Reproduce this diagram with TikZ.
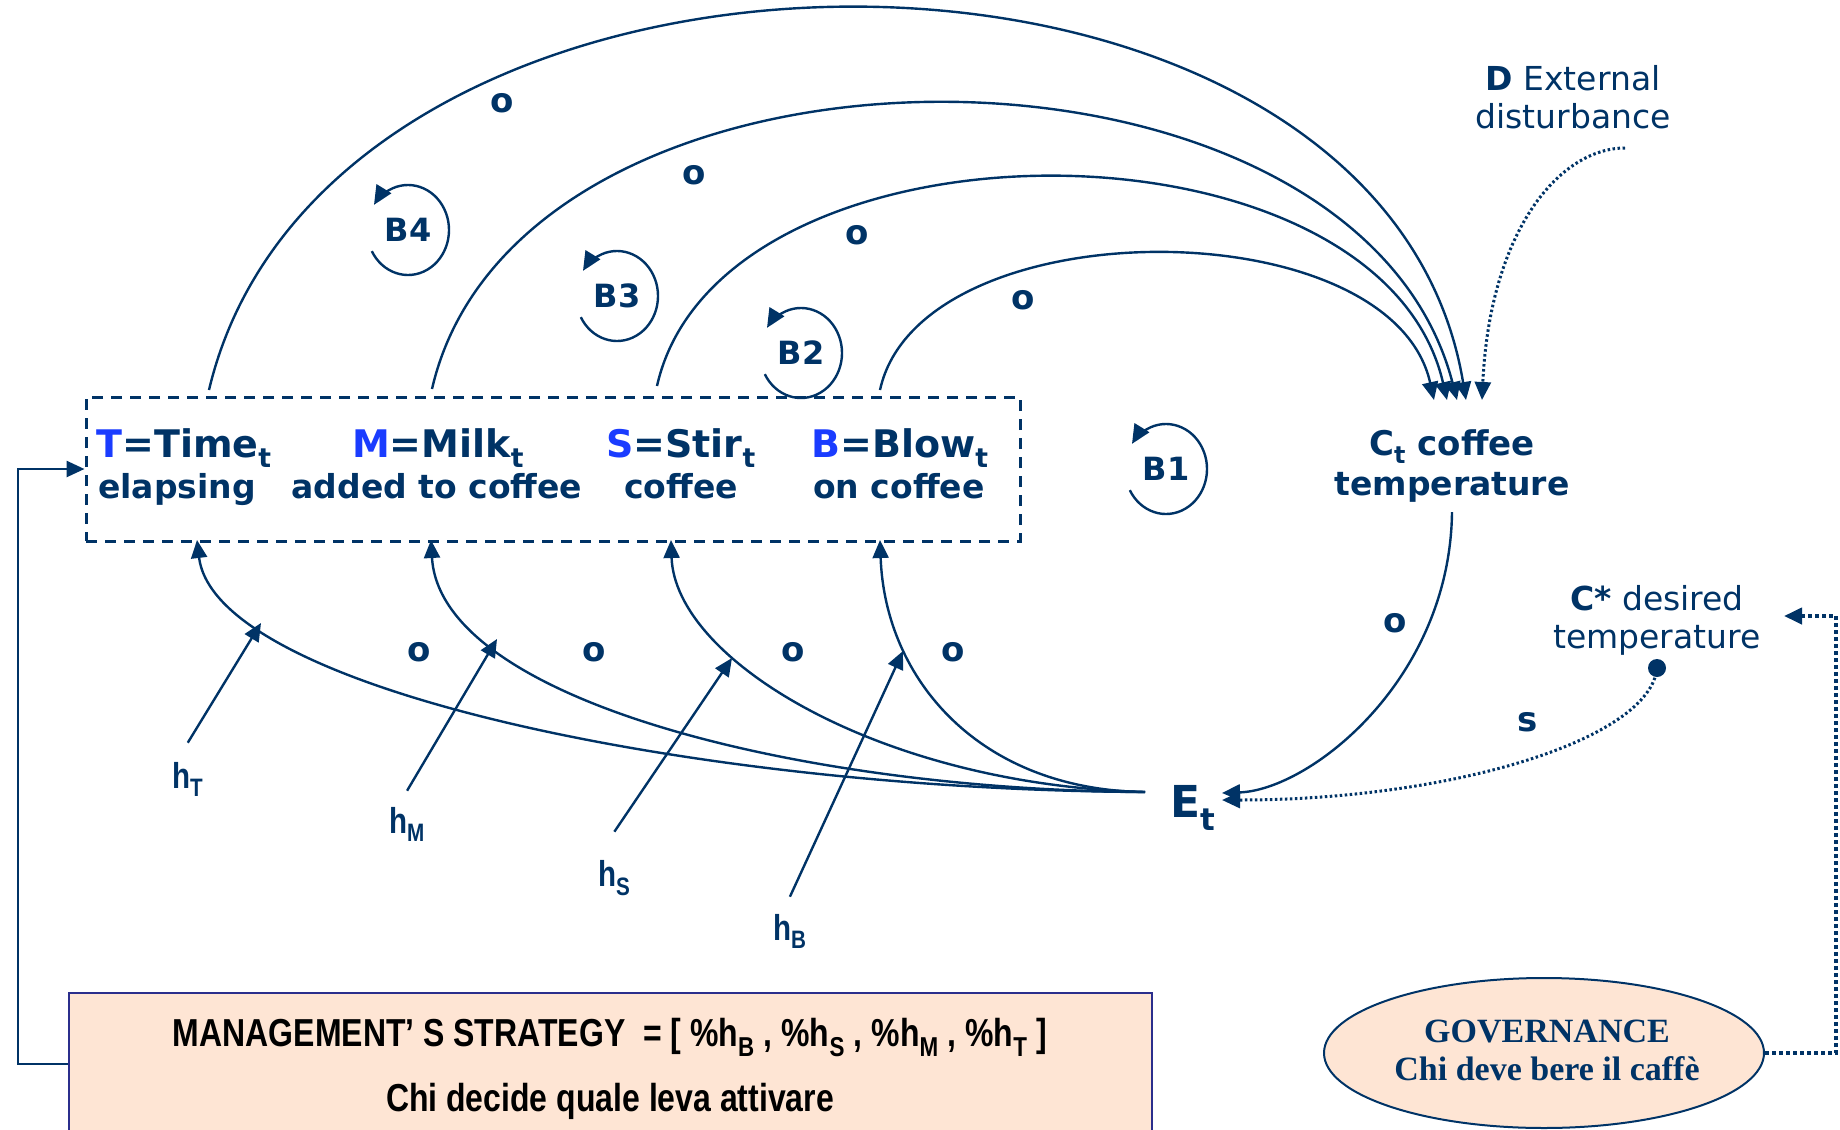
\documentclass[tikz,border=0pt]{standalone}
\usepackage{fontspec}
\setmainfont{DejaVu Sans}
\newfontfamily\narrowf{Liberation Sans}[FakeStretch=0.82]
\newfontfamily\timesf{Liberation Serif}
\usetikzlibrary{arrows.meta,shapes.geometric}
\definecolor{navy}{HTML}{003366}
\definecolor{vblue}{HTML}{1A3CFF}
\definecolor{peach}{HTML}{FEE5D4}
\definecolor{boxblue}{HTML}{2B2E8C}
\newcommand{\fsz}[1]{\fontsize{#1}{#1}\selectfont}
\begin{document}
\begin{tikzpicture}[x=1pt,y=-1pt,
  lab/.style={text=navy, inner sep=0pt},
  vone/.style={lab, anchor=base, font=\fsz{38}\bfseries},
  vtwo/.style={lab, anchor=base, font=\fsz{33}\bfseries},
  pol/.style={lab, font=\fsz{34}\bfseries},
  loopl/.style={lab, font=\fsz{32}\bfseries},
  hl/.style={lab, anchor=base west, font=\narrowf\fsz{36}\bfseries},
  arrowtip/.style={-{Triangle[length=18pt,width=16pt]}},
  link/.style={draw=navy, line width=2.4pt, arrowtip},
  looparc/.style={draw=navy, line width=2.4pt, -{Triangle[length=19pt,width=17pt]}},
  dotl/.style={draw=navy, line width=3pt, dash pattern=on 2.5pt off 2.5pt, arrowtip},
  govl/.style={draw=navy, line width=4pt, dash pattern=on 4pt off 3pt, arrowtip},
]
\useasboundingbox (0,0) rectangle (1840,1130);

% dashed box of levers
\node[draw=navy, line width=3pt, dash pattern=on 11pt off 8pt, minimum width=934pt, minimum height=144pt, inner sep=0pt] (box) at (553,469) {};
\node[vone] (T) at (184,457) {\textcolor{vblue}{T}=Time\textsubscript{t}};
\node[vtwo] (T2) at (177,498) {elapsing};
\node[vone] (M) at (438,457) {\textcolor{vblue}{M}=Milk\textsubscript{t}};
\node[vtwo] (M2) at (437,498) {added to coffee};
\node[vone] (S) at (681,457) {\textcolor{vblue}{S}=Stir\textsubscript{t}};
\node[vtwo] (S2) at (681,498) {coffee};
\node[vone] (B) at (900,457) {\textcolor{vblue}{B}=Blow\textsubscript{t}};
\node[vtwo] (B2t) at (899,498) {on coffee};

% coffee temperature
\node[lab, anchor=base, font=\fsz{34}\bfseries] (Ct) at (1452,455) {C\textsubscript{t} coffee};
\node[vtwo] (Ct2) at (1452,495) {temperature};

% error
\node[lab, anchor=base west, font=\fsz{44}\bfseries] (E) at (1170,817) {E\textsubscript{t}};

% desired temperature
\node[lab, anchor=base, font=\fsz{33}] (Cs) at (1657,610) {\textbf{C*} desired};
\node[lab, anchor=base, font=\fsz{33}] (Cs2) at (1657,648) {temperature};

% disturbance
\node[lab, anchor=base, font=\fsz{33}] (D) at (1573,90) {\textbf{D} External};
\node[lab, anchor=base, font=\fsz{33}] (D2) at (1573,128) {disturbance};

% coordinates
\coordinate (sT) at (209,390);
\coordinate (sM) at (432,389);
\coordinate (sS) at (657,386);
\coordinate (sB) at (880,390);
\coordinate (cB) at (1434,400);
\coordinate (cS) at (1447,400);
\coordinate (cM) at (1457,400);
\coordinate (cT) at (1466,400);
\coordinate (cD) at (1482,400);
\coordinate (Es) at (1145,792);
\coordinate (bT) at (197,540);
\coordinate (bM) at (431,540);
\coordinate (bS) at (671,540);
\coordinate (bB) at (880,540);
\coordinate (eA) at (1222,793);
\coordinate (eB) at (1222,800);
\coordinate (dS) at (1625,148);
\coordinate (hTt) at (261,623);
\coordinate (hMt) at (497,639);
\coordinate (hSt) at (732,658);
\coordinate (hBt) at (903,651);
\coordinate (gc) at (1836,616);
\coordinate (gt) at (1784,616);

% top arcs (levers -> coffee temperature)
\draw[link] (sT) .. controls (330,-120) and (1380,-120) .. (cT);
\draw[link] (sM) .. controls (520,7) and (1355,7) .. (cM);
\draw[link] (sS) .. controls (720,106) and (1379,106) .. (cS);
\draw[link] (sB) .. controls (920,207) and (1391,207) .. (cB);
\node[pol] (o1) at (502,103) {o};
\node[pol] (o2) at (694,175) {o};
\node[pol] (o3) at (857,235) {o};
\node[pol] (o4) at (1023,300) {o};

% disturbance
\draw[dotl] (dS) .. controls (1560,148) and (1490,230) .. (cD);

% loops
\node[loopl] (L4) at (408,230) {B4};
\node[loopl] (L3) at (617,296) {B3};
\node[loopl] (L2) at (801,353) {B2};
\node[loopl] (L1) at (1166,469) {B1};
\foreach \n in {L1,L2,L3,L4}{
  \draw[looparc] ([shift={(208:41pt and 45pt)}]\n.center) arc[start angle=208, end angle=506, x radius=41pt, y radius=45pt];
}

% E -> levers
\draw[link] (Es) .. controls (700,790) and (215,690) .. (bT);
\draw[link] (Es) .. controls (800,790) and (440,700) .. (bM);
\draw[link] (Es) .. controls (880,785) and (675,660) .. (bS);
\draw[link] (Es) .. controls (980,790) and (885,680) .. (bB);
\node[pol] (o5) at (419,652) {o};
\node[pol] (o6) at (594,652) {o};
\node[pol] (o7) at (793,652) {o};
\node[pol] (o8) at (953,652) {o};

% h levers
\node[hl] (hT) at (172,788) {h\textsubscript{T}};
\node[hl] (hM) at (389,833) {h\textsubscript{M}};
\node[hl] (hS) at (598,886) {h\textsubscript{S}};
\node[hl] (hB) at (773,940) {h\textsubscript{B}};
\draw[link] ([yshift=19pt]hT.north) -- (hTt);
\draw[link] ([yshift=16pt]hM.north) -- (hMt);
\draw[link] ([yshift=28pt]hS.north) -- (hSt);
\draw[link] ([yshift=17pt]hB.north) -- (hBt);

% C -> E
\draw[link] ([yshift=-10pt]Ct2.south) .. controls (1450,680) and (1310,790) .. (eA);
\node[pol] (o9) at (1395,623) {o};

% C* -> E
\draw[dotl] (1657,668) .. controls (1650,740) and (1450,800) .. (eB);
\node[circle, fill=navy, minimum size=18pt, inner sep=0pt] (dot) at (1657,668) {};
\node[pol] (s1) at (1528,722) {s};

% management strategy
\node[draw=boxblue, fill=peach, line width=2pt, minimum width=1083pt, minimum height=142pt, inner sep=0pt, anchor=north west] (mgmt) at (68,992) {};
\node[lab, text=black, anchor=base, font=\narrowf\fsz{39}\bfseries] (m1) at (610,1046) {MANAGEMENT’ S STRATEGY \ = [ \%h\textsubscript{B} , \%h\textsubscript{S} , \%h\textsubscript{M} , \%h\textsubscript{T} ]};
\node[lab, text=black, anchor=base, font=\narrowf\fsz{39}\bfseries] (m2) at (610,1111) {Chi decide quale leva attivare};
\draw[draw=navy, line width=2.6pt, arrowtip] (mgmt.west) -- ++(-50,0) |- (box.west);

% governance
\node[ellipse, draw=navy, fill=peach, line width=2pt, minimum width=440pt, minimum height=150pt, inner sep=0pt] (gov) at (1544,1053) {};
\node[lab, anchor=base, font=\timesf\fsz{34}\bfseries] (g1) at (1547,1042) {GOVERNANCE};
\node[lab, anchor=base, font=\timesf\fsz{34}\bfseries] (g2) at (1547,1080) {Chi deve bere il caffè};
\draw[govl] (gov.east) -| (gc) -- (gt);
\end{tikzpicture}
\end{document}
